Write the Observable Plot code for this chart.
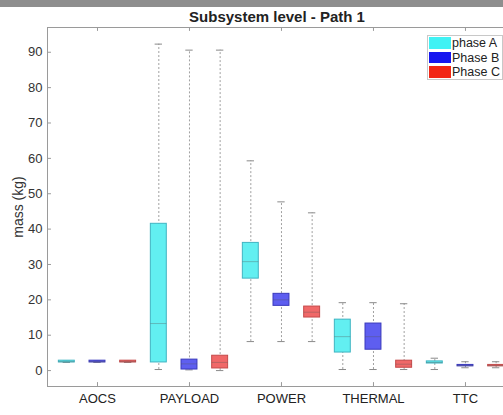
<!DOCTYPE html>
<html>
<head>
<meta charset="utf-8">
<script src="https://cdn.jsdelivr.net/npm/d3@7"></script>
<script src="https://cdn.jsdelivr.net/npm/@observablehq/plot@0.6"></script>
<style>
  body { margin: 0; background: #fff; font-family: "Liberation Sans", Arial, Helvetica, sans-serif; }
  #wrap { position: relative; width: 503px; height: 415px; overflow: hidden; background: #fff; }
  #chart { position: absolute; left: 0; top: 0; }
  #bar { position: absolute; left: 0; top: 0; width: 503px; height: 7px; background: #8e8e8e; }
  #title { position: absolute; left: 137px; top: 9px; width: 280px; text-align: center;
           font-weight: bold; font-size: 15px; line-height: 15px; color: #222; }
  #ylabel { position: absolute; left: -32.5px; top: 200px; width: 100px; height: 14px; line-height: 14px;
            font-size: 14px; text-align: center; transform: rotate(-90deg); color: #333; }
  #legend { position: absolute; left: 427px; top: 35px; width: 76px; box-sizing: border-box;
            border: 1px solid #c8c8c8; background: #fff; padding: 0; }
  .item { display: flex; align-items: center; height: 14.4px; font-size: 12.5px; color: #222; white-space: nowrap; }
  .sw { display: inline-block; width: 22px; height: 11.5px; margin: 0 1px 0 1px; }
</style>
</head>
<body>
<div id="wrap">
  <div id="chart"></div>
  <div id="bar"></div>
  <div id="title">Subsystem level - Path 1</div>
  <div id="ylabel">mass (kg)</div>
  <div id="legend"></div>
</div>
<script>
// Subsystems and mission phases
const categories = ["AOCS", "PAYLOAD", "POWER", "THERMAL", "TTC"];
const phases = ["phase A", "Phase B", "Phase C"];

// Box fills, box outlines and legend swatches, one per phase
const boxFill = ["#62eff1", "#5e5ef0", "#f06868"];
const boxStroke = ["#40b4c2", "#3a3abc", "#c44a4a"];
const swatchColors = ["#40f2f4", "#1616f0", "#f22616"];

// Box statistics in kg: rows = phase, columns = subsystem
const lower = [
  [2.3, 0.3, 8.2, 0.3, 0.3],
  [2.3, 0.2, 8.2, 0.3, 0.8],
  [2.3, 0.0, 8.2, 0.3, 0.8]
];
const q1 = [
  [2.3, 2.3, 26.0, 5.1, 2.0],
  [2.3, 0.3, 18.3, 5.9, 1.2],
  [2.3, 0.6, 15.0, 0.8, 1.2]
];
const median = [
  [2.5, 13.3, 30.8, 9.6, 2.3],
  [2.5, 1.9, 20.0, 9.6, 1.4],
  [2.5, 2.3, 16.5, 1.8, 1.4]
];
const q3 = [
  [2.8, 41.5, 36.1, 14.4, 2.6],
  [2.8, 3.1, 21.7, 13.3, 1.6],
  [2.8, 4.2, 18.1, 2.8, 1.6]
];
const upper = [
  [2.8, 92.3, 59.3, 19.2, 3.5],
  [2.8, 90.6, 47.7, 19.2, 2.5],
  [2.8, 90.6, 44.6, 18.9, 2.5]
];
const yTicks = [0, 10, 20, 30, 40, 50, 60, 70, 80, 90];

// One row per box; boxes sit at positions 1..15, three per subsystem
const rows = [];
categories.forEach((c, ci) => phases.forEach((p, pi) => rows.push({
  category: c, phase: p, pi, pos: ci * 3 + pi + 1,
  lo: lower[pi][ci], q1: q1[pi][ci], med: median[pi][ci], q3: q3[pi][ci], hi: upper[pi][ci]
})));
const catPos = categories.map((c, i) => i * 3 + 2);

const xDomain = [0.37, 15.24];
const yDomain = [-4.5, 97];
const half = 0.26;   // half box width
const cap = 0.12;    // half whisker-cap width
const axisGray = "#9a9a9a";

const chart = Plot.plot({
  width: 503, height: 415,
  marginLeft: 47, marginRight: 0, marginTop: 27, marginBottom: 29,
  style: { background: "#fff", fontFamily: "'Liberation Sans', Arial, Helvetica, sans-serif", fontSize: "13px", color: "#333" },
  x: { domain: xDomain, axis: null, label: null },
  y: { domain: yDomain, axis: null, label: null },
  marks: [
    // whiskers and caps
    Plot.ruleX(rows, { x: "pos", y1: "lo", y2: "hi", stroke: "#a0a0a0", strokeDasharray: "2,2" }),
    Plot.ruleY(rows, { y: "lo", x1: d => d.pos - cap, x2: d => d.pos + cap, stroke: "#8a8a8a" }),
    Plot.ruleY(rows, { y: "hi", x1: d => d.pos - cap, x2: d => d.pos + cap, stroke: "#8a8a8a" }),
    // interquartile boxes
    Plot.rect(rows, {
      x1: d => d.pos - half, x2: d => d.pos + half, y1: "q1", y2: "q3",
      fill: d => boxFill[d.pi], stroke: d => boxStroke[d.pi], strokeWidth: 1
    }),
    // medians
    Plot.ruleY(rows, { y: "med", x1: d => d.pos - half, x2: d => d.pos + half, stroke: "#555", strokeOpacity: 0.35 }),
    // frame: left, bottom, top
    Plot.ruleX([xDomain[0]], { stroke: axisGray }),
    Plot.ruleY([yDomain[0], yDomain[1]], { stroke: axisGray }),
    // inward tick marks
    Plot.ruleY(yTicks, { x1: xDomain[0], x2: xDomain[0] + 0.13, stroke: axisGray }),
    Plot.ruleX(catPos, { y1: yDomain[0], y2: yDomain[0] + 1.1, stroke: axisGray }),
    Plot.ruleX(catPos, { y1: yDomain[1], y2: yDomain[1] - 1.1, stroke: axisGray }),
    // tick labels
    Plot.axisY(yTicks, { tickSize: 0, tickPadding: 5, fontSize: 13, color: "#333", label: null }),
    Plot.axisX(catPos, { tickSize: 0, tickPadding: 7, fontSize: 13, color: "#222", label: null,
                         tickFormat: d => categories[(d - 2) / 3] })
  ]
});
document.getElementById("chart").appendChild(chart);

// legend
const legend = document.getElementById("legend");
phases.forEach((p, i) => {
  const item = document.createElement("div");
  item.className = "item";
  const sw = document.createElement("span");
  sw.className = "sw";
  sw.style.background = swatchColors[i];
  item.appendChild(sw);
  item.appendChild(document.createTextNode(p));
  legend.appendChild(item);
});
</script>
</body>
</html>
